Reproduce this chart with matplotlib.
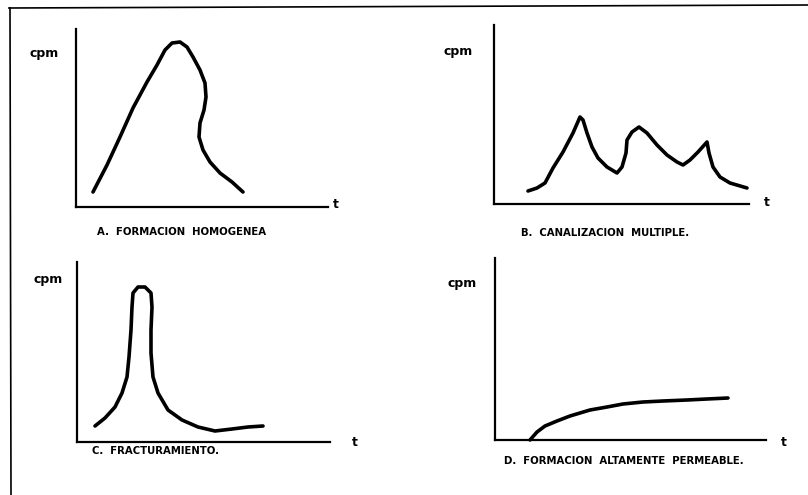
import matplotlib
matplotlib.use('Agg')
import matplotlib.pyplot as plt
from matplotlib.lines import Line2D

# Curvas tipicas (t horizontal, cpm vertical, unidades arbitrarias)
a_t = [17, 31, 44, 57, 71, 81, 89, 96, 104, 111, 117, 124, 129, 130, 128, 124,
       123, 127, 134, 144, 156, 167]
a_cpm = [15, 42, 70, 99, 125, 142, 157, 164, 165, 160, 150, 137, 124, 110, 97, 84,
         70, 57, 45, 34, 25, 15]

b_t = [34, 43, 51, 59, 69, 79, 86, 89, 93, 98, 104, 113, 123, 128, 132, 133,
       138, 145, 153, 163, 173, 183, 189, 196, 204, 213, 215, 219, 226, 236, 253]
b_cpm = [13, 16, 21, 36, 52, 71, 87, 84, 71, 57, 46, 37, 31, 37, 51, 64,
         72, 77, 71, 59, 49, 42, 39, 44, 52, 62, 51, 37, 27, 21, 16]

c_t = [18, 28, 38, 45, 50, 52, 54, 55, 56, 61, 68, 74, 75, 74, 74, 76, 81, 91,
       105, 121, 138, 155, 171, 186]
c_cpm = [16, 24, 35, 49, 65, 85, 112, 135, 149, 155, 155, 149, 135, 112, 89, 65,
         49, 32, 22, 15, 11, 13, 15, 16]

d_t = [35, 42, 50, 62, 75, 95, 112, 128, 148, 168, 192, 212, 233]
d_cpm = [0, 8, 14, 19, 24, 30, 33, 36, 38, 39, 40, 41, 42]

captions = ['A.  FORMACION  HOMOGENEA',
            'B.  CANALIZACION  MULTIPLE.',
            'C.  FRACTURAMIENTO.',
            'D.  FORMACION  ALTAMENTE  PERMEABLE.']

W, H = 808, 495
fig = plt.figure(figsize=(W / 100, H / 100), dpi=100)
fig.patch.set_facecolor('white')

# paneles: origen, ancho y alto de los ejes en pixeles + posicion de textos
paneles = [
    dict(ox=76, oy=207, w=252, h=178, cpm=(44, 53), t=(336, 205), cap=(97, 232)),
    dict(ox=494, oy=204, w=255, h=179, cpm=(458, 52), t=(767, 202), cap=(521, 233)),
    dict(ox=77, oy=442, w=253, h=180, cpm=(48, 279), t=(355, 443), cap=(92, 451)),
    dict(ox=495, oy=440, w=271, h=182, cpm=(462, 283), t=(784, 442), cap=(504, 461)),
]
series = [(a_t, a_cpm), (b_t, b_cpm), (c_t, c_cpm), (d_t, d_cpm)]

for p, (xs, ys), cap in zip(paneles, series, captions):
    ax = fig.add_axes([p['ox'] / W, 1 - p['oy'] / H, p['w'] / W, p['h'] / H])
    ax.set_xlim(0, p['w'])
    ax.set_ylim(0, p['h'])
    for s in ['top', 'right']:
        ax.spines[s].set_visible(False)
    for s in ['left', 'bottom']:
        ax.spines[s].set_linewidth(1.6)
        ax.spines[s].set_color('black')
    ax.set_xticks([])
    ax.set_yticks([])
    ax.patch.set_alpha(0)
    ax.plot(xs, ys, color='black', lw=2.6, solid_capstyle='round',
            solid_joinstyle='round', clip_on=False)

    fig.text(p['cpm'][0] / W, 1 - p['cpm'][1] / H, 'cpm', ha='center', va='center',
             fontsize=9, fontweight='bold', family='DejaVu Sans')
    fig.text(p['t'][0] / W, 1 - p['t'][1] / H, 't', ha='center', va='center',
             fontsize=9, fontweight='bold', family='DejaVu Sans')
    fig.text(p['cap'][0] / W, 1 - p['cap'][1] / H, cap, ha='left', va='center',
             fontsize=7.3, fontweight='bold', family='DejaVu Sans')

# marco
fig.add_artist(Line2D([9 / W, 1], [1 - 8 / H, 1 - 5 / H], color='black', lw=1.2,
                      transform=fig.transFigure))
fig.add_artist(Line2D([10 / W, 11 / W], [1 - 8 / H, 0], color='black', lw=1.2,
                      transform=fig.transFigure))

fig.savefig('out.png', dpi=100)
